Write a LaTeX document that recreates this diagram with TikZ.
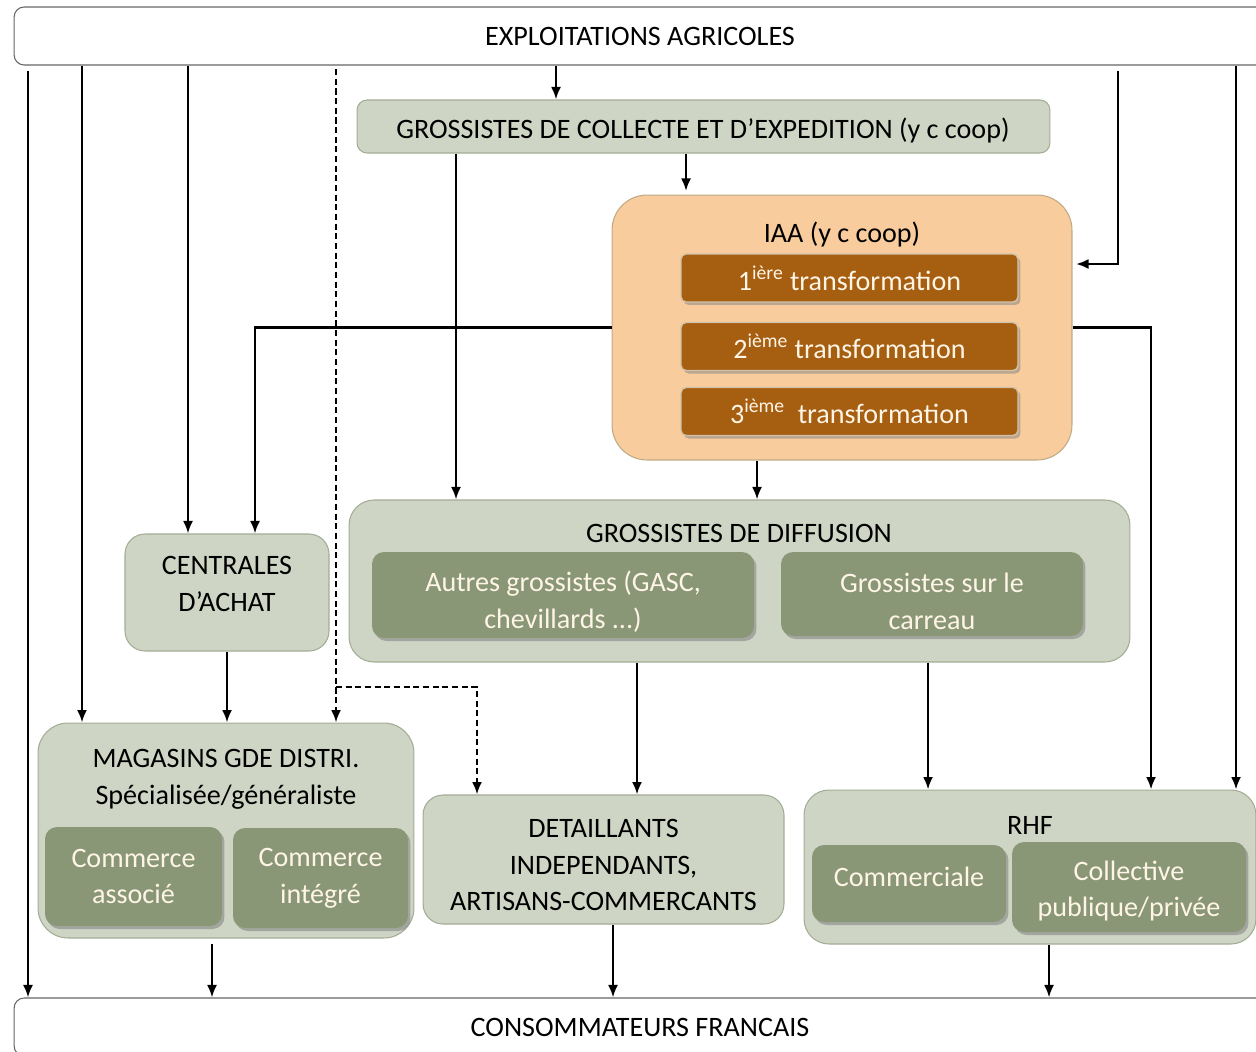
\documentclass[tikz,border=0pt]{standalone}
\usepackage{fontspec}
\setmainfont{Carlito}
\usetikzlibrary{arrows.meta,shadows}

\definecolor{sageL}{RGB}{207,213,197}
\definecolor{sageB}{RGB}{163,172,148}
\definecolor{sageD}{RGB}{137,151,118}
\definecolor{peach}{RGB}{249,204,157}
\definecolor{peachB}{RGB}{190,170,132}
\definecolor{brun}{RGB}{166,94,16}
\definecolor{creme}{RGB}{255,245,230}

\tikzset{
	cadre/.style={draw=black!60, line width=0.6pt, rounded corners=0.2cm, minimum width=25.04cm, minimum height=1.16cm},
	boite/.style={draw=sageB, fill=sageL, line width=0.6pt},
	sous/.style={fill=sageD, text=creme, align=center, rounded corners=0.24cm,
		drop shadow={shadow xshift=0.5mm, shadow yshift=-0.6mm, opacity=0.55}},
	trans/.style={fill=brun, text=creme, draw=peachB!70!white, line width=0.8pt, rounded corners=0.1cm,
		minimum width=6.74cm, minimum height=0.96cm,
		drop shadow={shadow xshift=0.5mm, shadow yshift=-0.6mm, opacity=0.5}},
	fl/.style={line width=1.3pt, -{Latex[length=2.5mm,width=2mm]}},
	fltir/.style={fl, dash pattern=on 3.5pt off 2pt}
}

\begin{document}
\begin{tikzpicture}[x=0.02cm, y=-0.02cm, font=\fontsize{16}{21}\selectfont, inner sep=0pt]
	\useasboundingbox (0,0) rectangle (1256,1051);
	\clip (0,0) rectangle (1256,1051);
	
	%Producteurs et consommateurs
	\node[cadre] (exp) at (640,36) {EXPLOITATIONS AGRICOLES};
	\node[cadre] (cons) at (640,1027) {CONSOMMATEURS FRANCAIS};
	
	%Grossistes de collecte
	\node[boite, rounded corners=0.2cm, minimum width=13.86cm, minimum height=1.06cm] (gcol) at (703.5,126.5) {};
	\node (gcolT) at (703,130) {GROSSISTES DE COLLECTE ET D’EXPEDITION (y c coop)};
	
	%IAA
	\node[draw=peachB, fill=peach, line width=0.6pt, rounded corners=0.7cm, minimum width=9.2cm, minimum height=5.3cm] (iaa) at (842,327.5) {};
	\node (iaaT) at (842,234) {IAA (y c coop)};
	\node[trans] (t1) at (849.5,278) {1\textsuperscript{ière} transformation};
	\node[trans] (t2) at (849.5,346.5) {2\textsuperscript{ième} transformation};
	\node[trans] (t3) at (849.5,411.5) {3\textsuperscript{ième}\ \ transformation};
	
	%Grossistes de diffusion
	\node[boite, rounded corners=0.5cm, minimum width=15.62cm, minimum height=3.24cm] (diff) at (739.5,581) {};
	\node (diffT) at (739,533) {GROSSISTES DE DIFFUSION};
	\node[sous, minimum width=7.64cm, minimum height=1.72cm] (autres) at (563,595) {};
	\node[text=creme, align=center] (autresT) at (563,602) {Autres grossistes (GASC,\\chevillards ...)};
	\node[sous, minimum width=6.04cm, minimum height=1.68cm] (carreau) at (932,594) {};
	\node[text=creme, align=center] (carreauT) at (932,601) {Grossistes sur le\\carreau};
	
	%Centrales
	\node[boite, rounded corners=0.4cm, minimum width=4.08cm, minimum height=2.34cm] (cent) at (227,592.5) {};
	\node[align=center] (centT) at (227,584) {CENTRALES\\D’ACHAT};
	
	%Magasins
	\node[boite, rounded corners=0.6cm, minimum width=7.52cm, minimum height=4.3cm] (mag) at (226,830.5) {};
	\node[align=center] (magT) at (226,779) {MAGASINS GDE DISTRI.\\Spécialisée/généraliste};
	\node[sous, minimum width=3.54cm, minimum height=1.98cm] (assoc) at (133.5,876.5) {Commerce\\associé};
	\node[sous, minimum width=3.5cm, minimum height=2cm] (integ) at (320.5,878) {Commerce\\intégré};
	
	%Detaillants
	\node[boite, rounded corners=0.4cm, minimum width=7.22cm, minimum height=2.58cm] (det) at (603.5,859.5) {};
	\node[align=center] (detT) at (603.5,865) {DETAILLANTS\\INDEPENDANTS,\\ARTISANS-COMMERCANTS};
	
	%RHF
	\node[boite, rounded corners=0.5cm, minimum width=9.04cm, minimum height=3.08cm] (rhf) at (1030,867) {};
	\node (rhfT) at (1030,825) {RHF};
	\node[sous, minimum width=3.88cm, minimum height=1.54cm] (comm) at (909,883.5) {};
	\node[text=creme] (commT) at (909,877) {Commerciale};
	\node[sous, minimum width=4.68cm, minimum height=1.8cm] (coll) at (1129,887) {};
	\node[text=creme, align=center] (collT) at (1129,891) {Collective\\publique/privée};
	
	%Colonnes des fleches
	\foreach \n/\x in {a/28, b/82, c/188, d/336, e/556, f/1118, g/1236, h/456, i/686, j/255,
		k/1151, l/757, m/637, n/928, o/212, p/613, q/1049, r/477}
		\coordinate (x\n) at (\x,0);
	\coordinate (ydash) at (0,687);
	\coordinate (yiaa) at (0,264);
	
	%Depuis les exploitations
	\draw[fl, shorten <=3pt] (exp.south -| xa) -- (cons.north -| xa);
	\draw[fl] (exp.south -| xb) -- (mag.north -| xb);
	\draw[fl] (exp.south -| xc) -- (cent.north -| xc);
	\draw[fltir, shorten <=2pt] (exp.south -| xd) -- (mag.north -| xd);
	\draw[fltir] (xd |- ydash) -| (det.north -| xr);
	\draw[fl] (exp.south -| xe) -- (gcol.north -| xe);
	\draw[fl, shorten <=3pt, shorten >=2pt] (exp.south -| xf) |- (iaa.east |- yiaa);
	\draw[fl] (exp.south -| xg) -- (rhf.north -| xg);
	
	%Grossistes de collecte et IAA
	\draw[fl] (gcol.south -| xh) -- (diff.north -| xh);
	\draw[fl, shorten >=2pt] (gcol.south -| xi) -- (iaa.north -| xi);
	\draw[fl] (iaa.west) -| (cent.north -| xj);
	\draw[fl] (iaa.east) -| (rhf.north -| xk);
	\draw[fl] (iaa.south -| xl) -- (diff.north -| xl);
	
	%Vers la distribution
	\draw[fl] (cent.south) -- (mag.north -| cent.south);
	\draw[fl] (diff.south -| xm) -- (det.north -| xm);
	\draw[fl] (diff.south -| xn) -- (rhf.north -| xn);
	
	%Vers les consommateurs
	\draw[fl, shorten <=3pt] (mag.south -| xo) -- (cons.north -| xo);
	\draw[fl] (det.south -| xp) -- (cons.north -| xp);
	\draw[fl] (rhf.south -| xq) -- (cons.north -| xq);
\end{tikzpicture}
\end{document}
